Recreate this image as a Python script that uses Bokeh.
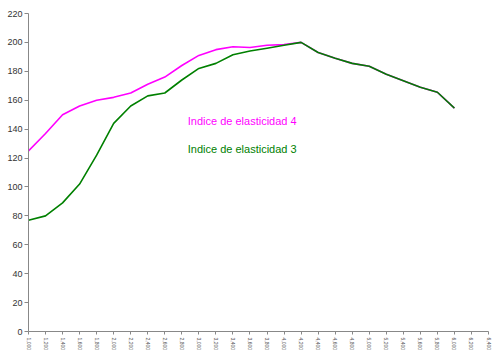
import math
from bokeh.plotting import figure
from bokeh.models import Range1d, FixedTicker, Label
from bokeh.embed import file_html
from bokeh.resources import INLINE

# ---- data ----
x_values = [1000 + 200 * i for i in range(26)]
x_ticks = [1000 + 200 * i for i in range(28)]
x_tick_labels = {t: f"{t:,}" for t in x_ticks}

indice_4 = [125, 137, 150, 156, 160, 162, 165, 171, 176, 184, 191, 195, 197, 196.5,
            198, 198.5, 200, 193, 189, 185.5, 183.5, 178, 173.5, 169, 165.5, 154.5]
indice_3 = [77, 80, 89, 102, 122, 144, 156, 163, 165, 174, 182, 185.5, 191.5, 194,
            196, 198, 200, 193, 189, 185.5, 183.5, 178, 173.5, 169, 165.5, 154.5]
series_names = ["Indice de elasticidad 4", "Indice de elasticidad 3"]
series_colors = ["#FF00FF", "#008000"]

p = figure(width=500, height=361, output_backend="svg", toolbar_location=None,
           x_range=Range1d(1000, 6400), y_range=Range1d(0, 220),
           min_border_left=28, min_border_right=12, min_border_top=13, min_border_bottom=30)
p.outline_line_color = None
p.xgrid.grid_line_color = None
p.ygrid.grid_line_color = None
p.background_fill_color = "white"

p.line(x_values, indice_4, line_color=series_colors[0], line_width=1.6)
p.line(x_values, indice_3, line_color=series_colors[1], line_width=1.6)

label_x = 2870
for name, color, ly in zip(series_names, series_colors, [145.3, 126.6]):
    p.add_layout(Label(x=label_x, y=ly, text=name, text_color=color,
                       text_font="Liberation Sans", text_font_size="11px",
                       text_baseline="middle", text_align="left"))

# y axis
p.yaxis.ticker = FixedTicker(ticks=list(range(0, 221, 20)))
p.yaxis.axis_line_color = "#888888"
p.yaxis.major_tick_line_color = "#888888"
p.yaxis.major_tick_out = 4
p.yaxis.major_tick_in = 0
p.yaxis.minor_tick_line_color = None
p.yaxis.major_label_text_font = "Liberation Sans"
p.yaxis.major_label_text_font_size = "9px"
p.yaxis.major_label_text_color = "#333333"
p.yaxis.major_label_standoff = 2

# x axis
p.xaxis.ticker = FixedTicker(ticks=x_ticks)
p.xaxis.major_label_overrides = {t: s for t, s in x_tick_labels.items()}
p.xaxis.major_label_orientation = -math.pi / 2
p.xaxis.axis_line_color = "#888888"
p.xaxis.major_tick_line_color = "#888888"
p.xaxis.major_tick_out = 3
p.xaxis.major_tick_in = 0
p.xaxis.minor_tick_line_color = None
p.xaxis.major_label_text_font = "Liberation Sans"
p.xaxis.major_label_text_font_size = "5px"
p.xaxis.major_label_text_color = "#555555"
p.xaxis.major_label_standoff = 3

open("out.html", "w").write(file_html(p, INLINE))
